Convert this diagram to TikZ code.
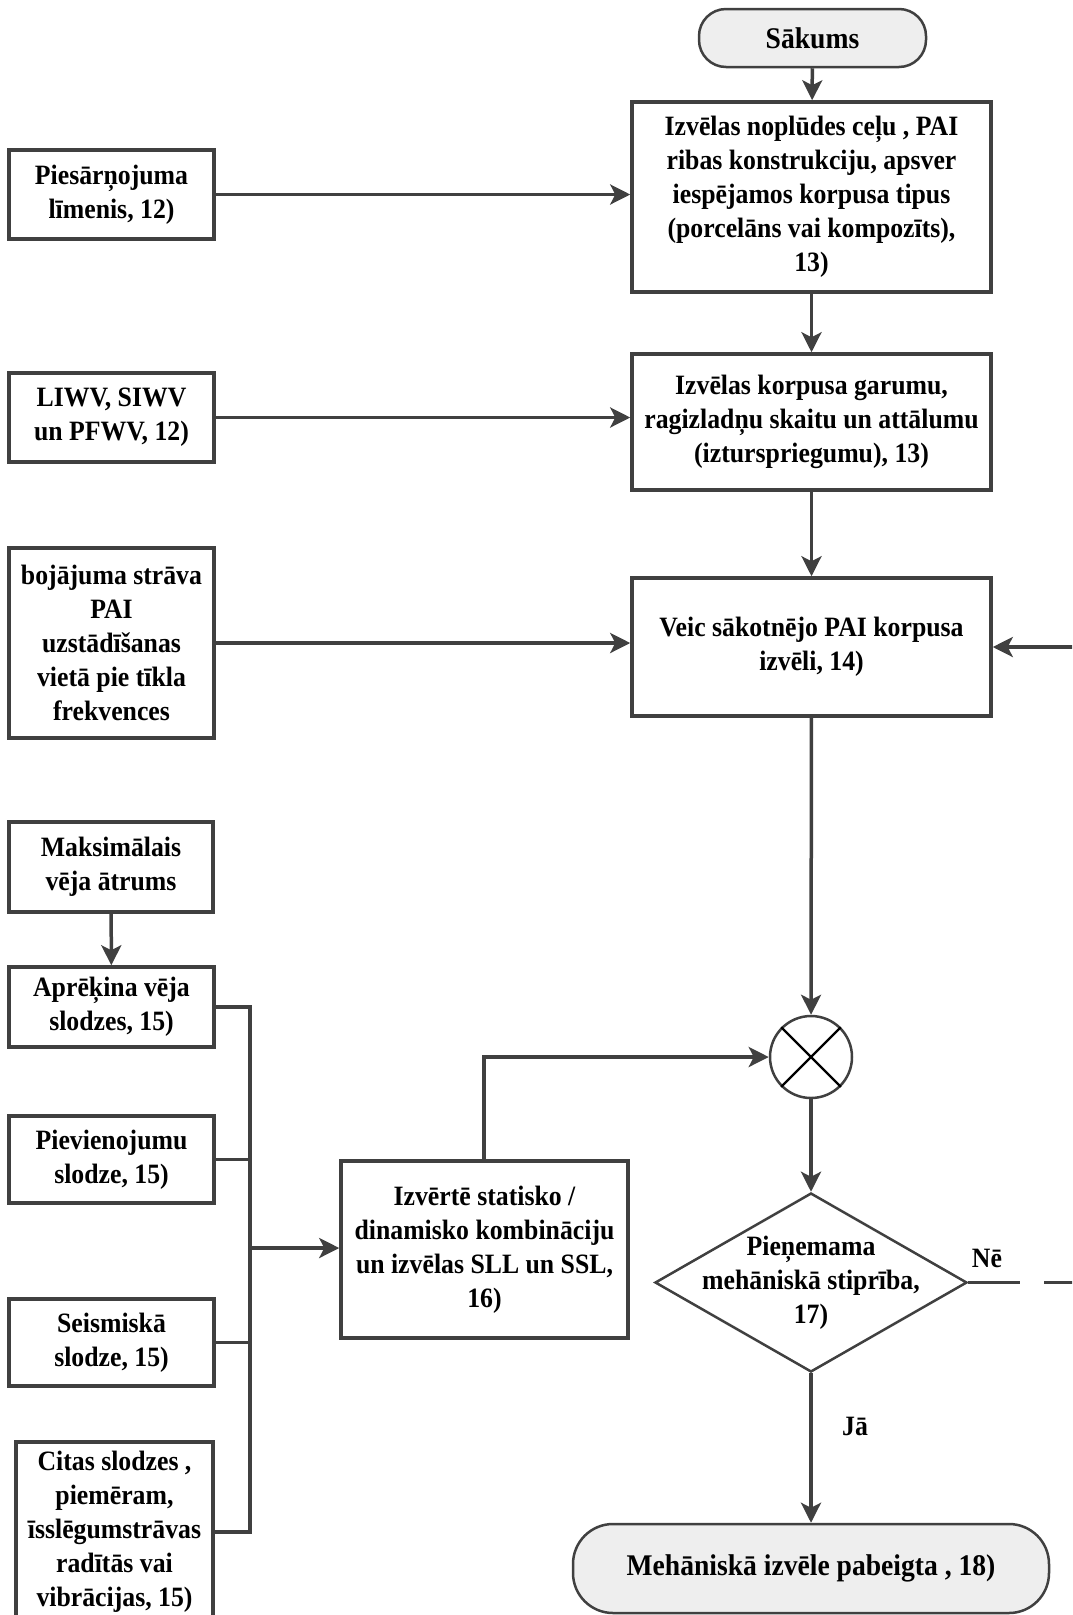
\documentclass[tikz,border=0pt]{standalone}
\usepackage{fontspec}
\setmainfont{Liberation Serif}[FakeStretch=0.92]
\usetikzlibrary{shapes.geometric,arrows.meta}
\definecolor{ln}{HTML}{404040}
\definecolor{term}{HTML}{EEEEEE}
\begin{document}
\begin{tikzpicture}[x=1pt,y=-1pt,
  txt/.style={align=center,font=\bfseries\fontsize{28}{34}\selectfont,text=black},
  box/.style={txt,draw=ln,line width=3.5pt,fill=white,inner sep=0pt},
  termbox/.style={box,fill=term,line width=2.5pt,font=\bfseries\fontsize{30}{34}\selectfont},
  arr/.style={draw=ln,line width=3.5pt,-{Stealth[length=20pt,width=20pt,inset=5pt]}},
  plain/.style={draw=ln,line width=3.5pt},
  loopline/.style={draw=ln,line width=3.5pt,dash pattern=on 52pt off 24pt}]
\useasboundingbox (0,0) rectangle (1072,1615);
\clip (0,0) rectangle (1072,1615);

% main column
\node[termbox,minimum width=227pt,minimum height=58pt,rounded corners=27pt] (start) at (812.5,38) {Sākums};
\node[box,minimum width=359pt,minimum height=190pt] (b1) at (811.5,197)
  {Izvēlas noplūdes ceļu , PAI\\ribas konstrukciju, apsver\\iespējamos korpusa tipus\\(porcelāns vai kompozīts),\\13)};
\node[box,minimum width=359pt,minimum height=136pt] (b2) at (811.5,422)
  {Izvēlas korpusa garumu,\\ragizladņu skaitu un attālumu\\(izturspriegumu), 13)};
\node[box,minimum width=359pt,minimum height=138pt] (b3) at (811.5,647)
  {Veic sākotnējo PAI korpusa\\izvēli, 14)};
\node[draw=ln,line width=2.5pt,circle,minimum size=82pt,inner sep=0pt] (circ) at (811,1057) {};
\draw[black,line width=2.2pt] (circ.45) -- (circ.225) (circ.135) -- (circ.315);
\node[draw=ln,line width=2.5pt,diamond,minimum width=312pt,minimum height=179pt,inner sep=0pt,
  label={[txt]center:{Pieņemama\\mehāniskā stiprība,\\17)}}] (dia) at (811,1282.5) {};
\node[termbox,minimum width=476pt,minimum height=89pt,rounded corners=40pt] (end) at (811,1568.5)
  {Mehāniskā izvēle pabeigta , 18)};

% left inputs
\node[box,minimum width=205pt,minimum height=89pt] (p1) at (111.5,194.5) {Piesārņojuma\\līmenis, 12)};
\node[box,minimum width=205pt,minimum height=89pt] (p2) at (111.5,417.5) {LIWV, SIWV\\un PFWV, 12)};
\node[box,minimum width=205pt,minimum height=190pt] (p3) at (111.5,643)
  {bojājuma strāva\\PAI\\uzstādīšanas\\vietā pie tīkla\\frekvences};
\node[box,minimum width=204pt,minimum height=90pt] (p4) at (111,867) {Maksimālais\\vēja ātrums};
\node[box,minimum width=205pt,minimum height=80pt] (p5) at (111.5,1007) {Aprēķina vēja\\slodzes, 15)};
\node[box,minimum width=205pt,minimum height=87pt] (p6) at (111.5,1159.5) {Pievienojumu\\slodze, 15)};
\node[box,minimum width=205pt,minimum height=87pt] (p7) at (111.5,1342.5) {Seismiskā\\slodze, 15)};
\node[box,minimum width=197pt,minimum height=180pt] (p8) at (114.5,1532) {Citas slodzes ,\\piemēram,\\īsslēgumstrāvas\\radītās vai\\vibrācijas, 15)};
\node[box,minimum width=287pt,minimum height=177pt] (dec) at (484.5,1249.5)
  {Izvērtē statisko /\\dinamisko kombināciju\\un izvēlas SLL un SSL,\\16)};

% labels
\node[txt] (ne) at (987,1258) {Nē};
\node[txt] (ja) at (855,1426) {Jā};

% coordinates
\coordinate (bus) at (250,1248);
\coordinate (busTop) at (250,1007);
\coordinate (busBot) at (250,1532);
\coordinate (turn) at (484,1057);
\coordinate (loopB) at (1110,1282.5);
\coordinate (loopT) at (1110,647);

% connectors
\draw[arr] (start) -- (b1);
\draw[arr] (b1) -- (b2);
\draw[arr] (b2) -- (b3);
\draw[arr] (b3) -- (circ);
\draw[arr] (circ) -- (dia);
\draw[arr] (dia) -- (end);
\draw[arr] (p1.east) -- (p1.east -| b1.west);
\draw[arr] (p2.east) -- (p2.east -| b2.west);
\draw[arr] (p3.east) -- (p3.east -| b3.west);
\draw[arr] (p4) -- (p5);
\draw[plain] (p5.east) -- (busTop) -- (busBot) -- (p8.east);
\draw[plain] (p6.east) -- (p6.east -| bus);
\draw[plain] (p7.east) -- (p7.east -| bus);
\draw[arr] (bus) -- (bus -| dec.west);
\draw[arr] (dec.north -| turn) -- (turn) -- (circ.west);
\draw[loopline] (dia.east) -- (loopB) -- (loopT);
\draw[arr] (loopT) -- (b3.east);
\end{tikzpicture}
\end{document}
